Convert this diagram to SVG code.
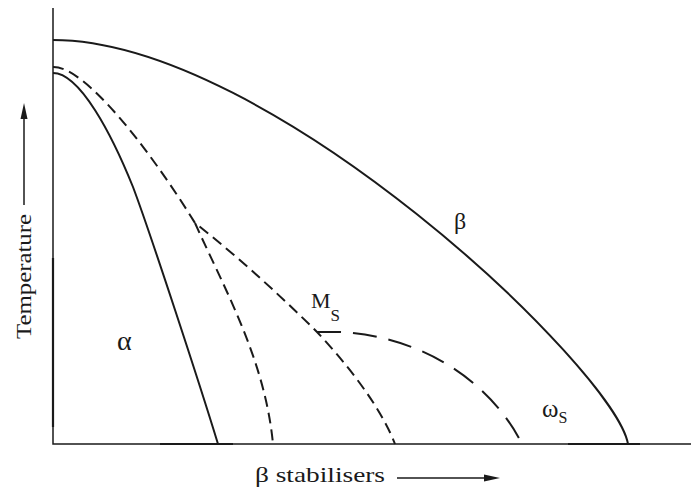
<svg xmlns="http://www.w3.org/2000/svg" width="691" height="491" viewBox="0 0 691 491">
<defs>
<style>
.ax{stroke:#1a1a1a;stroke-width:1.5;fill:none}
.axt{stroke:#1a1a1a;stroke-width:2.2;fill:none}
.sol{stroke:#1a1a1a;stroke-width:2;fill:none}
.sd{stroke:#1a1a1a;stroke-width:2;fill:none;stroke-dasharray:11 6}
.ld{stroke:#1a1a1a;stroke-width:2;fill:none;stroke-dasharray:24 12}
text{font-family:'Liberation Serif',serif;fill:#1a1a1a}
</style>
</defs>
<rect width="691" height="491" fill="#fff"/>
<g id="axes">
<path class="ax" d="M53,8 V444 H691"/>
<path class="axt" d="M53,258 V427 M160,444 H233 M568,444 H640"/>
</g>
<g id="connectors">
<path id="beta-transus" class="sol" d="M53,40 C270,40 615,370 628,444"/>
<path id="alpha-boundary" class="sol" d="M53,73 C80,73 112,135 133,187 C150,232 200,385 218,444"/>
<path id="dash-main" class="sd" d="M53,67 C85,66 150,150 195,223 C240,258 290,305 317,332 C345,362 380,405 395,444"/>
<path id="dash-branch" class="sd" d="M195,223 C225,290 265,360 273,444"/>
<path id="omega" class="ld" d="M317,332 L340,332 C420,336 490,380 522,444"/>
</g>
<g id="y-label">
<text font-size="22" textLength="125" lengthAdjust="spacingAndGlyphs" transform="translate(31,339) rotate(-90)">Temperature</text>
<line x1="24" y1="205" x2="24" y2="115" stroke="#1a1a1a" stroke-width="1.5"/>
<polygon points="24,103 20.5,119 27.5,119" fill="#1a1a1a"/>
</g>
<g id="x-label">
<text x="255" y="482" font-size="22" textLength="130" lengthAdjust="spacingAndGlyphs">β stabilisers</text>
<line x1="397" y1="478" x2="488" y2="478" stroke="#1a1a1a" stroke-width="1.5"/>
<polygon points="500,478 484,474.5 484,481.5" fill="#1a1a1a"/>
</g>
<g id="label-alpha"><text x="117" y="350" font-size="28">α</text></g>
<g id="label-beta"><text x="454" y="229" font-size="24">β</text></g>
<g id="label-ms"><text x="311" y="308" font-size="22">M<tspan font-size="17" dy="13">S</tspan></text></g>
<g id="label-omega"><text x="542" y="417" font-size="25">ω<tspan font-size="16" dy="6">S</tspan></text></g>
</svg>
